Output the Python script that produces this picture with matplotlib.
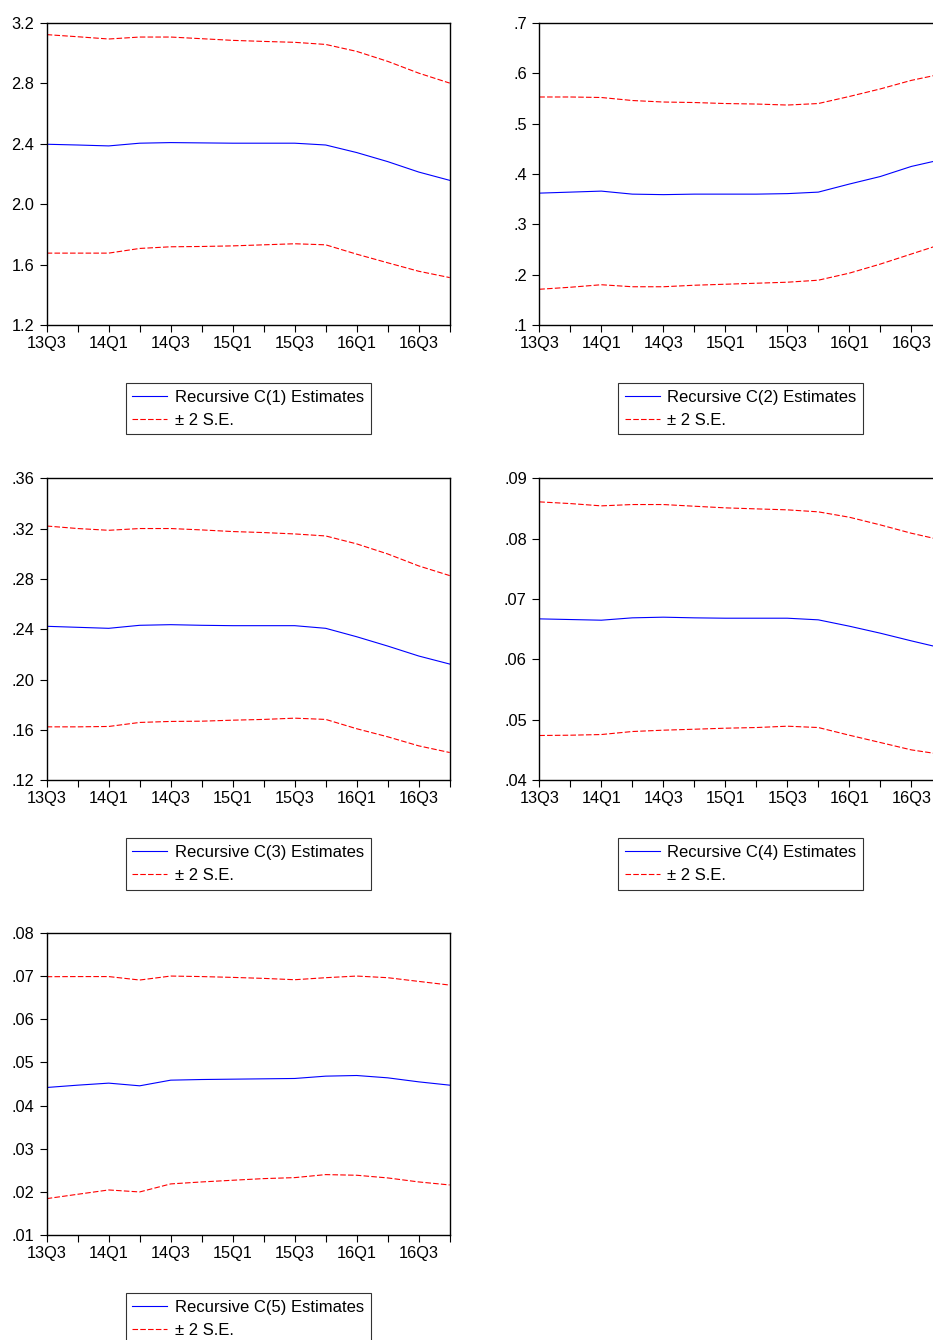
import matplotlib
matplotlib.use('Agg')
import matplotlib.pyplot as plt

plt.rcParams['font.family'] = ['Liberation Sans', 'DejaVu Sans']

quarters = ['13Q3', '13Q4', '14Q1', '14Q2', '14Q3', '14Q4', '15Q1', '15Q2',
            '15Q3', '15Q4', '16Q1', '16Q2', '16Q3', '16Q4']

# C(1)
c1_est = [2.397, 2.392, 2.386, 2.404, 2.408, 2.406, 2.404, 2.404, 2.404, 2.392, 2.342, 2.282, 2.213, 2.158]
c1_upper = [3.123, 3.109, 3.094, 3.107, 3.107, 3.096, 3.085, 3.078, 3.072, 3.058, 3.012, 2.946, 2.868, 2.802]
c1_lower = [1.676, 1.676, 1.676, 1.707, 1.718, 1.720, 1.724, 1.731, 1.738, 1.731, 1.669, 1.612, 1.556, 1.514]

# C(2)
c2_est = [0.362, 0.364, 0.366, 0.360, 0.359, 0.360, 0.360, 0.360, 0.361, 0.364, 0.380, 0.395, 0.415, 0.429]
c2_upper = [0.553, 0.553, 0.552, 0.546, 0.543, 0.542, 0.540, 0.539, 0.537, 0.540, 0.554, 0.569, 0.586, 0.599]
c2_lower = [0.171, 0.175, 0.180, 0.176, 0.176, 0.179, 0.181, 0.183, 0.185, 0.189, 0.203, 0.221, 0.241, 0.261]

# C(3)
c3_est = [0.2423, 0.2415, 0.2407, 0.2431, 0.2436, 0.2431, 0.2428, 0.2428, 0.2428, 0.2407, 0.2340, 0.2266, 0.2187, 0.2123]
c3_upper = [0.3220, 0.3200, 0.3186, 0.3200, 0.3200, 0.3189, 0.3176, 0.3168, 0.3157, 0.3141, 0.3078, 0.2998, 0.2903, 0.2826]
c3_lower = [0.1624, 0.1624, 0.1627, 0.1659, 0.1667, 0.1669, 0.1677, 0.1683, 0.1693, 0.1683, 0.1609, 0.1545, 0.1473, 0.1420]

# C(4)
c4_est = [0.06671, 0.06660, 0.06649, 0.06688, 0.06699, 0.06688, 0.06682, 0.06682, 0.06682, 0.06655, 0.06550, 0.06434, 0.06307, 0.06186]
c4_upper = [0.08608, 0.08580, 0.08542, 0.08564, 0.08564, 0.08536, 0.08509, 0.08492, 0.08476, 0.08443, 0.08354, 0.08227, 0.08089, 0.07973]
c4_lower = [0.04740, 0.04745, 0.04756, 0.04806, 0.04828, 0.04844, 0.04861, 0.04872, 0.04894, 0.04872, 0.04745, 0.04624, 0.04502, 0.04425]

# C(5)
c5_est = [0.04419, 0.04473, 0.04520, 0.04458, 0.04589, 0.04604, 0.04612, 0.04620, 0.04628, 0.04682, 0.04697, 0.04643, 0.04550, 0.04473]
c5_upper = [0.06987, 0.06990, 0.06990, 0.06910, 0.07002, 0.06990, 0.06971, 0.06948, 0.06917, 0.06964, 0.07002, 0.06964, 0.06878, 0.06793]
c5_lower = [0.01843, 0.01944, 0.02044, 0.01998, 0.02184, 0.02230, 0.02269, 0.02307, 0.02330, 0.02400, 0.02385, 0.02323, 0.02230, 0.02160]

c1_ticks = [1.2, 1.6, 2.0, 2.4, 2.8, 3.2]
c1_labels = ['1.2', '1.6', '2.0', '2.4', '2.8', '3.2']
c2_ticks = [0.1, 0.2, 0.3, 0.4, 0.5, 0.6, 0.7]
c2_labels = ['.1', '.2', '.3', '.4', '.5', '.6', '.7']
c3_ticks = [0.12, 0.16, 0.20, 0.24, 0.28, 0.32, 0.36]
c3_labels = ['.12', '.16', '.20', '.24', '.28', '.32', '.36']
c4_ticks = [0.04, 0.05, 0.06, 0.07, 0.08, 0.09]
c4_labels = ['.04', '.05', '.06', '.07', '.08', '.09']
c5_ticks = [0.01, 0.02, 0.03, 0.04, 0.05, 0.06, 0.07, 0.08]
c5_labels = ['.01', '.02', '.03', '.04', '.05', '.06', '.07', '.08']


def draw_panel(fig, rect, est, upper, lower, ticks, tick_labels, name):
    ax = fig.add_axes(rect)
    x = list(range(len(quarters)))
    dash = (0, (5, 2))

    ax.plot(x, est, color='#0000ff', lw=0.8, label='Recursive ' + name + ' Estimates')
    ax.plot(x, upper, color='#ff0000', lw=0.8, linestyle=dash, label='± 2 S.E.')
    ax.plot(x, lower, color='#ff0000', lw=0.8, linestyle=dash)

    ax.set_xlim(0, len(quarters) - 1)
    ax.set_ylim(ticks[0], ticks[-1])
    ax.set_yticks(ticks)
    ax.set_yticklabels(tick_labels)
    ax.set_xticks(x[::2])
    ax.set_xticklabels(quarters[::2])
    ax.set_xticks(x[1::2], minor=True)

    ax.tick_params(axis='both', which='both', direction='out', length=5, width=0.8,
                   labelsize=11.8, colors='black')
    ax.tick_params(axis='y', pad=4)
    ax.tick_params(axis='x', pad=3)
    for sp in ax.spines.values():
        sp.set_linewidth(1.0)
        sp.set_color('black')

    # legend box sits under the plot, centred
    leg = ax.legend(loc='upper center', bbox_to_anchor=(0.5, -0.192), borderaxespad=0,
                    fontsize=12, frameon=True, fancybox=False, handlelength=2.1,
                    handletextpad=0.45, borderpad=0.4, labelspacing=0.48)
    leg.get_frame().set_edgecolor('black')
    leg.get_frame().set_linewidth(0.8)
    return ax


fig = plt.figure(figsize=(9.33, 13.40), dpi=100)

w = 403 / 933
h = 302 / 1340
left1 = 46.7 / 933
left2 = 539.3 / 933
row1 = 1 - 325 / 1340
row2 = 1 - 780.2 / 1340
row3 = 1 - 1235 / 1340

draw_panel(fig, [left1, row1, w, h], c1_est, c1_upper, c1_lower, c1_ticks, c1_labels, 'C(1)')
draw_panel(fig, [left2, row1, w, h], c2_est, c2_upper, c2_lower, c2_ticks, c2_labels, 'C(2)')
draw_panel(fig, [left1, row2, w, h], c3_est, c3_upper, c3_lower, c3_ticks, c3_labels, 'C(3)')
draw_panel(fig, [left2, row2, w, h], c4_est, c4_upper, c4_lower, c4_ticks, c4_labels, 'C(4)')
draw_panel(fig, [left1, row3, w, h], c5_est, c5_upper, c5_lower, c5_ticks, c5_labels, 'C(5)')

fig.savefig('out.png', dpi=100)
